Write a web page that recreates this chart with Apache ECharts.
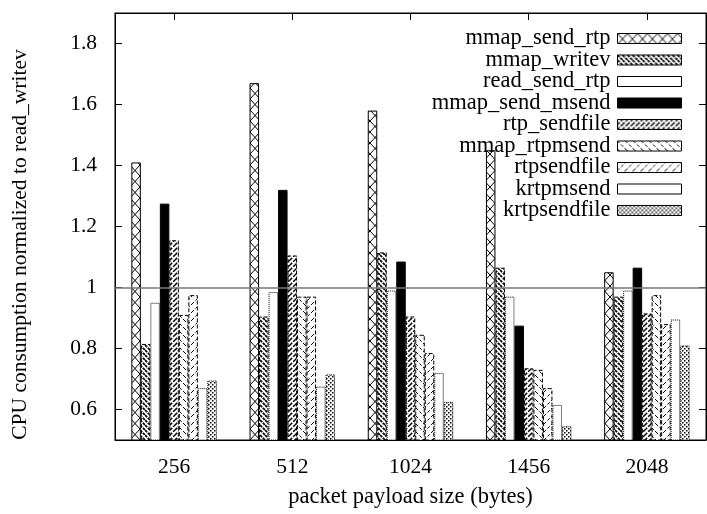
<!DOCTYPE html>
<html>
<head>
<meta charset="utf-8">
<script src="https://cdn.jsdelivr.net/npm/echarts@6/dist/echarts.min.js"></script>
<style>html,body{margin:0;padding:0;background:#fff}#c{width:707px;height:514px}</style>
</head>
<body>
<div id="c"></div>
<script>
const categories = ['256', '512', '1024', '1456', '2048'];
const seriesNames = ['mmap_send_rtp', 'mmap_writev', 'read_send_rtp', 'mmap_send_msend', 'rtp_sendfile', 'mmap_rtpmsend', 'rtpsendfile', 'krtpmsend', 'krtpsendfile'];
const mmap_send_rtp   = [1.41, 1.67, 1.58, 1.45, 1.05];
const mmap_writev     = [0.815, 0.905, 1.115, 1.065, 0.97];
const read_send_rtp   = [0.95, 0.985, 0.99, 0.97, 0.99];
const mmap_send_msend = [1.275, 1.32, 1.085, 0.875, 1.065];
const rtp_sendfile    = [1.155, 1.105, 0.905, 0.735, 0.915];
const mmap_rtpmsend   = [0.91, 0.97, 0.845, 0.73, 0.975];
const rtpsendfile     = [0.975, 0.97, 0.785, 0.67, 0.88];
const krtpmsend       = [0.67, 0.675, 0.72, 0.615, 0.895];
const krtpsendfile    = [0.695, 0.715, 0.625, 0.545, 0.81];
const yTicks = [0.6, 0.8, 1, 1.2, 1.4, 1.6, 1.8];
const seriesValues = [mmap_send_rtp, mmap_writev, read_send_rtp, mmap_send_msend, rtp_sendfile, mmap_rtpmsend, rtpsendfile, krtpmsend, krtpsendfile];

function pat(w, h, draw) {
  const c = document.createElement('canvas');
  c.width = w; c.height = h;
  const g = c.getContext('2d');
  g.fillStyle = '#fff'; g.fillRect(0, 0, w, h);
  g.strokeStyle = '#000'; g.fillStyle = '#000';
  draw(g, w, h);
  return { image: c, repeat: 'repeat' };
}
function slash(g, s, lw, dash) {
  g.lineWidth = lw; g.setLineDash(dash || []);
  g.beginPath();
  g.moveTo(0, s); g.lineTo(s, 0);
  g.moveTo(-s, s); g.lineTo(s, -s);
  g.moveTo(0, 2 * s); g.lineTo(2 * s, 0);
  g.stroke();
}
function back(g, s, lw, dash) {
  g.lineWidth = lw; g.setLineDash(dash || []);
  g.beginPath();
  g.moveTo(0, 0); g.lineTo(s, s);
  g.moveTo(-s, 0); g.lineTo(s, 2 * s);
  g.moveTo(0, -s); g.lineTo(2 * s, s);
  g.stroke();
}
const fills = [
  pat(10, 11, (g, w, h) => { g.lineWidth = 1; g.beginPath(); g.moveTo(0, 0); g.lineTo(w, h); g.moveTo(w, 0); g.lineTo(0, h); g.stroke(); }),
  pat(5, 5, (g) => { back(g, 5, 1.7, [3, 1]); }),
  '#fff',
  '#000',
  pat(5, 5, (g) => { slash(g, 5, 1.5, [3, 1.5]); }),
  pat(8, 8, (g) => { back(g, 8, 1, [3, 2]); }),
  pat(8, 8, (g) => { slash(g, 8, 1, [3, 2]); }),
  '#fff',
  pat(4, 4, (g) => { g.fillRect(0, 0, 1.5, 1.5); g.fillRect(2, 2, 1.5, 1.5); })
];
const borders = ['solid', 'dashed', 'dotted', 'solid', 'dashed', 'dashed', 'dashed', 'dotted', 'dotted'];

const FONT = 'Liberation Serif';
const series = seriesNames.map((name, i) => {
  const s = {
    name: name,
    type: 'bar',
    data: seriesValues[i],
    barWidth: 9.5,
    barGap: '0%',
    itemStyle: { color: fills[i], borderColor: '#000', borderWidth: 1, borderType: borders[i] },
    emphasis: { disabled: true }
  };
  if (i === 0) {
    s.markLine = {
      silent: true, symbol: 'none', label: { show: false },
      lineStyle: { color: '#777', width: 1.5, type: 'solid' },
      data: [{ yAxis: 1 }]
    };
  }
  return s;
});

const chart = echarts.init(document.getElementById('c'), null, { renderer: 'canvas' });
chart.setOption({
  animation: false,
  backgroundColor: '#fff',
  textStyle: { fontFamily: FONT },
  grid: { left: 115, right: 1, top: 13, bottom: 69, show: true, borderColor: '#000', borderWidth: 1, backgroundColor: 'transparent' },
  legend: {
    orient: 'vertical', right: 20, top: 22, align: 'right', icon: 'rect',
    itemWidth: 64, itemHeight: 10, itemGap: -1.5, selectedMode: false,
    textStyle: { fontFamily: FONT, fontSize: 22.5, color: '#000', lineHeight: 21, padding: [0, 2, 0, 0] },
    itemStyle: { borderWidth: 1 },
    data: seriesNames
  },
  xAxis: [{
    type: 'category', data: categories, position: 'bottom',
    axisLine: { show: true, lineStyle: { color: '#000', width: 1 } },
    axisTick: { show: true, inside: true, alignWithLabel: true, length: 7, lineStyle: { color: '#000' } },
    axisLabel: { color: '#000', fontFamily: FONT, fontSize: 21.5, margin: 16 },
    name: 'packet payload size (bytes)', nameLocation: 'middle', nameGap: 46,
    nameTextStyle: { color: '#000', fontFamily: FONT, fontSize: 22.5 }
  }, {
    type: 'category', data: categories, position: 'top',
    axisLine: { show: true, lineStyle: { color: '#000', width: 1 } },
    axisTick: { show: true, inside: true, alignWithLabel: true, length: 7, lineStyle: { color: '#000' } },
    axisLabel: { show: false }
  }],
  yAxis: [{
    type: 'value', min: 0.5, max: 1.9, position: 'left',
    axisLine: { show: true, lineStyle: { color: '#000', width: 1 } },
    axisTick: { show: true, inside: true, length: 7, customValues: yTicks, lineStyle: { color: '#000' } },
    axisLabel: { color: '#000', fontFamily: FONT, fontSize: 21.5, margin: 18, customValues: yTicks },
    splitLine: { show: false },
    name: 'CPU consumption normalized to read_writev', nameLocation: 'middle', nameGap: 84,
    nameTextStyle: { color: '#000', fontFamily: FONT, fontSize: 21.5, padding: [0, 36, 0, 0] }
  }, {
    type: 'value', min: 0.5, max: 1.9, position: 'right',
    axisLine: { show: true, lineStyle: { color: '#000', width: 1 } },
    axisTick: { show: true, inside: true, length: 7, customValues: yTicks, lineStyle: { color: '#000' } },
    axisLabel: { show: false, customValues: yTicks },
    splitLine: { show: false }
  }],
  series: series
});
</script>
</body>
</html>
